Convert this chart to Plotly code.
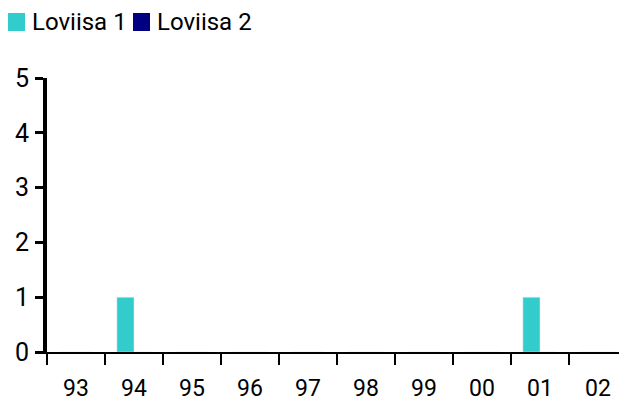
import plotly.graph_objects as go

# Datos
anios = ["93", "94", "95", "96", "97", "98", "99", "00", "01", "02"]
loviisa_1 = [0, 1, 0, 0, 0, 0, 0, 0, 1, 0]
loviisa_2 = [0, 0, 0, 0, 0, 0, 0, 0, 0, 0]
y_ticks = [0, 1, 2, 3, 4, 5]
series = ["Loviisa 1", "Loviisa 2"]
colores = ["#33CCCC", "#000080"]

FUENTE = "Roboto, Liberation Sans, sans-serif"

# la pagina html deja 8px de margen en el body -> se compensa
OFF = 8
W, H = 627 - OFF, 406 - OFF
L, R, T, B = 47 - OFF, 0, 78 - OFF, 54
PW, PH = W - L - R, H - T - B


def px_x(x):
    # x en pixeles de la ventana
    return (x - OFF - L) / PW


def px_y(y):
    return (H - B - (y - OFF)) / PH


fig = go.Figure()
for nombre, vals, col in zip(series, [loviisa_1, loviisa_2], colores):
    fig.add_trace(go.Bar(x=anios, y=vals, name=nombre, marker_color=col,
                         showlegend=False))

# Leyenda manual (cuadros grandes como en el original)
leyenda_x = [8, 133]
for nombre, col, x0 in zip(series, colores, leyenda_x):
    fig.add_shape(type="rect", xref="paper", yref="paper",
                  x0=px_x(x0), x1=px_x(x0 + 17), y0=px_y(31), y1=px_y(13),
                  fillcolor=col, line_width=0)
    fig.add_annotation(text=nombre, xref="paper", yref="paper",
                       x=px_x(x0 + 22), y=px_y(22), xanchor="left",
                       yanchor="middle", showarrow=False,
                       font=dict(size=24, color="black"))

fig.update_layout(
    width=W, height=H,
    margin=dict(l=L, r=R, t=T, b=B),
    plot_bgcolor="white", paper_bgcolor="white",
    barmode="group", bargap=0.41, bargroupgap=0,
    font=dict(family=FUENTE, size=24, color="black"),
    showlegend=False,
    xaxis=dict(
        type="category", showline=True, linecolor="black", linewidth=1.5,
        ticks="outside", tickson="boundaries", ticklen=11, tickwidth=2,
        tickcolor="black", showgrid=False, zeroline=False, automargin=False,
        ticklabelstandoff=15, tickfont=dict(size=23),
    ),
    yaxis=dict(
        range=[0, 5], tickvals=y_ticks, showline=True, linecolor="black",
        linewidth=4, ticks="outside", ticklen=8, tickwidth=3,
        tickcolor="black", showgrid=False, zeroline=False, automargin=False,
        ticklabelstandoff=1, tickfont=dict(size=25),
    ),
)

fig.write_html("out.html")
